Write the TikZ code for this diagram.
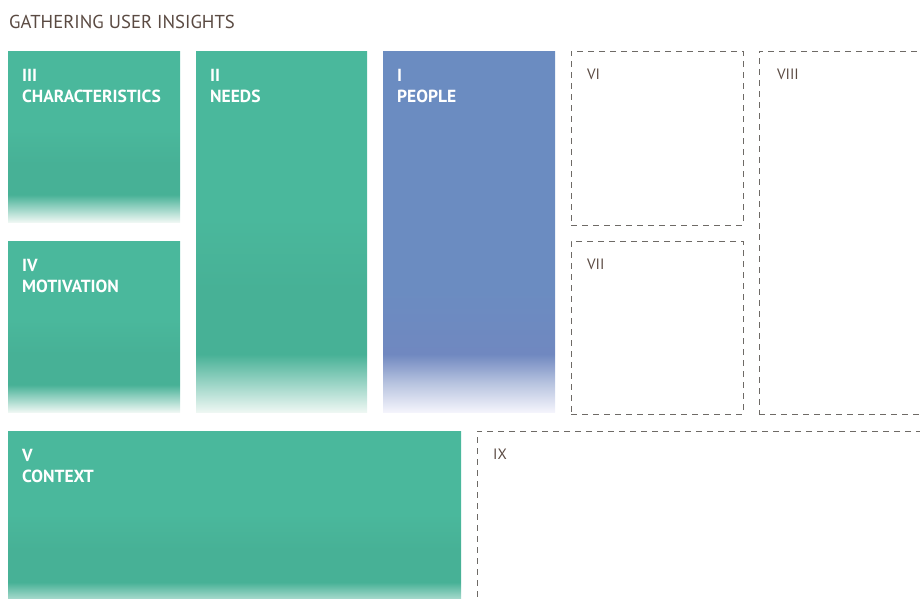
\documentclass[tikz,border=0pt]{standalone}
\usepackage{fontspec}
\setmainfont{PT Sans}
\usetikzlibrary{positioning}

\definecolor{tealA}{HTML}{4AB89C}
\definecolor{tealB}{HTML}{47B196}
\definecolor{tealC}{HTML}{EEF7F3}
\definecolor{blueA}{HTML}{6B8CC1}
\definecolor{blueB}{HTML}{7088C0}
\definecolor{blueC}{HTML}{F4F4FC}
\definecolor{ink}{HTML}{5A4A42}
\definecolor{dashgray}{HTML}{6E6A66}

% bottom = 25bp, top = 75bp
\pgfdeclareverticalshading{tealfade}{100bp}{color(0bp)=(tealC); color(25bp)=(tealC);
  color(29bp)=(tealB!55!white); color(33bp)=(tealB); color(42bp)=(tealB);
  color(52bp)=(tealA); color(100bp)=(tealA)}
\pgfdeclareverticalshading{bluefade}{100bp}{color(0bp)=(blueC); color(25bp)=(blueC);
  color(29bp)=(blueB!50!white); color(33bp)=(blueB); color(42bp)=(blueA);
  color(100bp)=(blueA)}

\begin{document}
\begin{tikzpicture}[
    x=1pt, y=-1pt,
    box/.style={inner sep=0pt, outer sep=0pt, anchor=north west, shade, shading=tealfade},
    bluebox/.style={box, shading=bluefade},
    openbox/.style={draw=dashgray, line width=0.9pt, dash pattern=on 6pt off 5pt,
        inner sep=0pt, outer sep=0pt, anchor=north west},
    tag/.style={font=\bfseries\fontsize{17.5}{21}\selectfont, text=white, align=left,
        inner sep=0pt, anchor=north west},
    opentag/.style={font=\fontsize{15}{21}\selectfont, text=ink, inner sep=0pt, anchor=north west}
]

    \useasboundingbox (0,0) rectangle (920,598);
    \clip (0,0) rectangle (920,598);

    % --- Title ---
    \node[font=\fontsize{18.7}{22}\selectfont, text=ink, inner sep=0pt, anchor=west] (title) at (9,21.5) {GATHERING USER INSIGHTS};

    % --- Filled Blocks ---
    \node[box, minimum width=172, minimum height=171] (chr) at (8,51) {};
    \node[box, minimum width=172, minimum height=171] (mot) at (8,241) {};
    \node[box, minimum width=171, minimum height=361] (nds) at (196,51) {};
    \node[bluebox, minimum width=172, minimum height=361] (ppl) at (383,51) {};
    \node[box, minimum width=453, minimum height=180] (ctx) at (8,431) {};

    % --- Empty Blocks (dashed) ---
    \node[openbox, minimum width=172, minimum height=174] (vi) at (571,51) {};
    \node[openbox, minimum width=172, minimum height=173] (vii) at (571,241) {};
    \node[openbox, minimum width=200, minimum height=363] (viii) at (759,51) {};
    \node[openbox, minimum width=480, minimum height=200] (ix) at (477,431) {};

    % --- Labels ---
    \node[tag, below right=18pt and 14pt of chr.north west] (chr-t) {III\\CHARACTERISTICS};
    \node[tag, below right=18pt and 14pt of mot.north west] (mot-t) {IV\\MOTIVATION};
    \node[tag, below right=18pt and 14pt of nds.north west] (nds-t) {II\\NEEDS};
    \node[tag, below right=18pt and 14pt of ppl.north west] (ppl-t) {I\\PEOPLE};
    \node[tag, below right=18pt and 14pt of ctx.north west] (ctx-t) {V\\CONTEXT};

    \node[opentag, below right=18pt and 16pt of vi.north west] (vi-t) {VI};
    \node[opentag, below right=18pt and 16pt of vii.north west] (vii-t) {VII};
    \node[opentag, below right=18pt and 18pt of viii.north west] (viii-t) {VIII};
    \node[opentag, below right=18pt and 16pt of ix.north west] (ix-t) {IX};

\end{tikzpicture}
\end{document}
